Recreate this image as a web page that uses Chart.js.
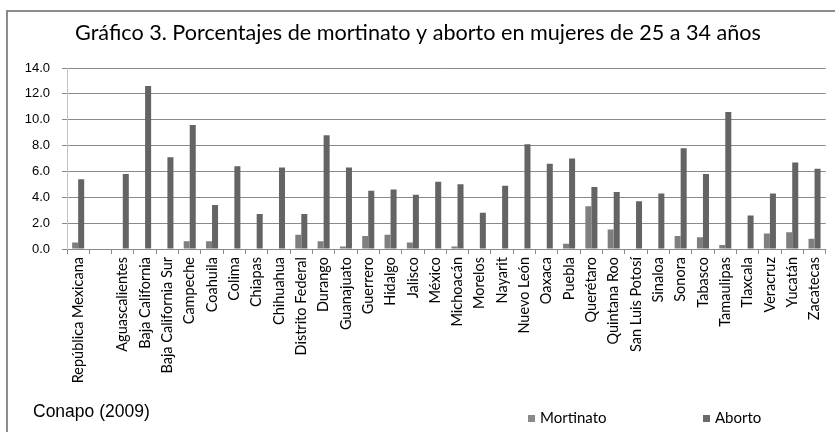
<!DOCTYPE html>
<html>
<head>
<meta charset="utf-8">
<script src="https://cdn.jsdelivr.net/npm/chart.js@4/dist/chart.umd.min.js"></script>
<style>
  body { margin: 0; background: #fff; }
  #wrap { width: 835px; height: 432px; position: relative; }
</style>
</head>
<body>
<div id="wrap"><canvas id="chart"></canvas></div>
<script>
// categorias (hay un hueco vacio despues del total nacional)
let labels = ['República Mexicana', '', 'Aguascalientes', 'Baja California', 'Baja California Sur',
  'Campeche', 'Coahuila', 'Colima', 'Chiapas', 'Chihuahua', 'Distrito Federal', 'Durango',
  'Guanajuato', 'Guerrero', 'Hidalgo', 'Jalisco', 'México', 'Michoacán', 'Morelos', 'Nayarit',
  'Nuevo León', 'Oaxaca', 'Puebla', 'Querétaro', 'Quintana Roo', 'San Luis Potosí', 'Sinaloa',
  'Sonora', 'Tabasco', 'Tamaulipas', 'Tlaxcala', 'Veracruz', 'Yucatán', 'Zacatecas'];

let mortinato = [0.5, null, 0, 0, 0, 0.6, 0.6, 0, 0, 0, 1.1, 0.6, 0.2, 1.0, 1.1, 0.5, 0, 0.2,
  0, 0, 0, 0, 0.4, 3.3, 1.5, 0, 0, 1.0, 0.9, 0.3, 0, 1.2, 1.3, 0.8];

let aborto = [5.4, null, 5.8, 12.6, 7.1, 9.6, 3.4, 6.4, 2.7, 6.3, 2.7, 8.8, 6.3, 4.5, 4.6, 4.2,
  5.2, 5.0, 2.8, 4.9, 8.1, 6.6, 7.0, 4.8, 4.4, 3.7, 4.3, 7.8, 5.8, 10.6, 2.6, 4.3, 6.7, 6.2];

let yTicks = [0, 2, 4, 6, 8, 10, 12, 14];

var title = 'Gráfico 3. Porcentajes de mortinato y aborto en mujeres de 25 a 34 años';
var source = 'Conapo (2009)';

var COLOR_MORT = '#7f7f7f';
var COLOR_ABORTO = '#646464';
var GRID = '#8a8a8a';

// marco, titulo, fuente y leyenda dibujados a mano
const extras = {
  id: 'extras',
  beforeDraw(chart) {
    const ctx = chart.ctx;
    ctx.save();
    ctx.fillStyle = '#fff';
    ctx.fillRect(0, 0, chart.width, chart.height);
    ctx.strokeStyle = '#8c8c8c';
    ctx.lineWidth = 2;
    ctx.beginPath();
    ctx.moveTo(7, chart.height);
    ctx.lineTo(7, 11);
    ctx.lineTo(chart.width, 11);
    ctx.stroke();
    ctx.restore();
  },
  afterDraw(chart) {
    const ctx = chart.ctx;
    ctx.save();
    ctx.fillStyle = '#000';
    ctx.textBaseline = 'middle';
    ctx.textAlign = 'center';
    ctx.font = '21.6px Lato';
    ctx.fillText(title, 418, 33);

    ctx.textAlign = 'left';
    ctx.font = '17.5px "Liberation Sans"';
    ctx.fillText(source, 33, 412);

    // leyenda
    const xs = [528, 703];
    ctx.font = '15px Lato';
    chart.data.datasets.forEach((ds, i) => {
      ctx.fillStyle = ds.legendColor;
      ctx.fillRect(xs[i], 415, 7, 7);
      ctx.fillStyle = '#000';
      ctx.fillText(ds.label, xs[i] + 12, 418);
    });
    ctx.restore();
  }
};

new Chart(document.getElementById('chart'), {
  type: 'bar',
  data: {
    labels: labels,
    datasets: [
      { label: 'Mortinato', data: mortinato, backgroundColor: COLOR_MORT, legendColor: '#8a8a8a',
        categoryPercentage: 0.54, barPercentage: 1.0 },
      { label: 'Aborto', data: aborto, backgroundColor: COLOR_ABORTO, legendColor: '#6a6a6a',
        categoryPercentage: 0.54, barPercentage: 1.0 }
    ]
  },
  plugins: [extras],
  options: {
    responsive: true,
    maintainAspectRatio: false,
    animation: false,
    layout: { padding: { top: 68, right: 4, left: 0, bottom: 0 } },
    plugins: {
      legend: { display: false },
      title: { display: false },
      tooltip: { enabled: false }
    },
    scales: {
      x: {
        afterFit: (s) => { s.height = 183; },
        grid: { drawOnChartArea: false, color: GRID, tickLength: 5, offset: true },
        border: { color: GRID },
        ticks: {
          autoSkip: false, minRotation: 90, maxRotation: 90, padding: 3,
          color: '#000', font: { family: 'Lato', size: 14.5 }
        }
      },
      y: {
        min: 0, max: 14,
        afterFit: (s) => { s.width = 67; },
        afterBuildTicks: (s) => { s.ticks = yTicks.map(v => ({ value: v })); },
        grid: { color: GRID, tickLength: 5 },
        border: { color: '#c4c4c4' },
        ticks: {
          padding: 12, color: '#000',
          font: { family: 'Liberation Sans', size: 13 },
          callback: (v) => v.toFixed(1)
        }
      }
    }
  }
});
</script>
</body>
</html>
